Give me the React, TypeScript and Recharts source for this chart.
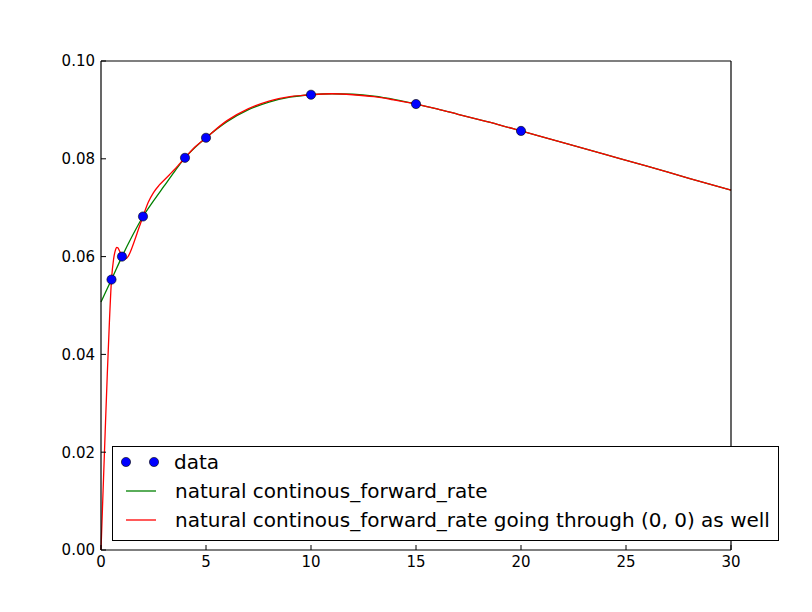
import React from "react";
import { ComposedChart, Line, Scatter, XAxis, YAxis, Legend } from "recharts";

// knots (maturities) and their observed forward rates
const dataX = [0.5, 1, 2, 4, 5, 10, 15, 20];
const dataY = [0.0553, 0.06, 0.0682, 0.0802, 0.0843, 0.0931, 0.0912, 0.0857];

// natural spline through the knots
const greenX = [0, 0.5, 1, 1.5, 2, 2.5, 3, 3.5, 4, 4.5, 5, 6, 7, 8, 9, 10, 11, 12, 13, 14, 15, 16, 17, 18, 19, 20, 22, 24, 26, 28, 30];
const greenY = [
  0.0507, 0.0553, 0.06, 0.0643, 0.0682, 0.0714, 0.0744, 0.0774, 0.0802, 0.0824, 0.0843, 0.0876, 0.09, 0.0916, 0.0926,
  0.0931, 0.0933, 0.0932, 0.0928, 0.0921, 0.0912, 0.0902, 0.0891, 0.088, 0.0869, 0.0857, 0.0833, 0.0809, 0.0785, 0.076, 0.0736,
];

// same spline, forced through (0, 0)
const redX = [
  0, 0.1, 0.2, 0.3, 0.4, 0.5, 0.6, 0.7, 0.75, 0.8, 0.9, 1, 1.1, 1.2, 1.3, 1.4, 1.6, 1.8, 2, 2.25, 2.5, 2.75, 3, 3.25, 3.5,
  3.75, 4, 4.5, 5, 6, 7, 8, 9, 10, 11, 12, 13, 14, 15, 16, 17, 18, 19, 20, 22, 24, 26, 28, 30,
];
const redY = [
  0, 0.0122, 0.0243, 0.036, 0.0466, 0.0553, 0.0595, 0.0615, 0.0619, 0.0618, 0.061, 0.0601, 0.0596, 0.0596, 0.0601, 0.061,
  0.0633, 0.0658, 0.0682, 0.0711, 0.0731, 0.0745, 0.0756, 0.0767, 0.0778, 0.079, 0.0802, 0.0825, 0.0843, 0.0878, 0.0902,
  0.0918, 0.0927, 0.0931, 0.0933, 0.0931, 0.0927, 0.092, 0.0912, 0.0902, 0.0891, 0.088, 0.0869, 0.0857, 0.0833, 0.0809,
  0.0785, 0.076, 0.0736,
];

const xTicks = [0, 5, 10, 15, 20, 25, 30];
const yTicks = [0, 0.02, 0.04, 0.06, 0.08, 0.1];

const legendLabels = [
  "data",
  "natural continous_forward_rate",
  "natural continous_forward_rate going through (0, 0) as well",
];

const points = dataX.map((x, i) => ({ x, y: dataY[i] }));
const green = greenX.map((x, i) => ({ x, y: greenY[i] }));
const red = redX.map((x, i) => ({ x, y: redY[i] }));

const FONT = "'DejaVu Sans', sans-serif";
const tickStyle = { fontSize: 15, fill: "#000", fontFamily: FONT };

function Dot(props: any) {
  return <circle cx={props.cx} cy={props.cy} r={4.6} fill="#0000ff" stroke="#000" strokeWidth={0.6} />;
}

function LegendBox() {
  const rowTop = [16, 45, 74];
  return (
    <div
      style={{
        position: "relative",
        width: 667,
        height: 95,
        boxSizing: "border-box",
        border: "1px solid #000",
        background: "#fff",
        fontFamily: FONT,
        fontSize: 20,
        color: "#000",
      }}
    >
      <svg style={{ position: "absolute", left: 0, top: 0 }} width={60} height={93}>
        <circle cx={13} cy={rowTop[0] - 1} r={4.6} fill="#0000ff" stroke="#000" strokeWidth={0.6} />
        <circle cx={41} cy={rowTop[0] - 1} r={4.6} fill="#0000ff" stroke="#000" strokeWidth={0.6} />
        <line x1={13} x2={43} y1={rowTop[1] - 1} y2={rowTop[1] - 1} stroke="#008000" strokeWidth={1.3} />
        <line x1={13} x2={43} y1={rowTop[2] - 1} y2={rowTop[2] - 1} stroke="#ff0000" strokeWidth={1.3} />
      </svg>
      {legendLabels.map((t, i) => (
        <div
          key={t}
          style={{ position: "absolute", left: i === 0 ? 61 : 62, top: rowTop[i] - 13, lineHeight: "24px", whiteSpace: "nowrap" }}
        >
          {t}
        </div>
      ))}
    </div>
  );
}

export default function App() {
  return (
    <div style={{ width: 796, height: 596, background: "#fff" }}>
      <ComposedChart width={796} height={596} margin={{ top: 43, right: 63, bottom: 24, left: 33 }}>
        <XAxis
          dataKey="x"
          type="number"
          domain={[0, 30]}
          ticks={xTicks}
          tick={tickStyle}
          tickSize={-5}
          tickMargin={11}
          height={30}
          stroke="#000"
          axisLine={{ stroke: "#000", strokeWidth: 1.2 }}
        />
        <XAxis
          xAxisId="top"
          orientation="top"
          type="number"
          domain={[0, 30]}
          ticks={xTicks}
          tickFormatter={() => ""}
          tickSize={-5}
          height={10}
          stroke="#000"
          axisLine={{ stroke: "#000", strokeWidth: 1.2 }}
        />
        <YAxis
          type="number"
          domain={[0, 0.1]}
          ticks={yTicks}
          tickFormatter={(v: number) => v.toFixed(2)}
          tick={tickStyle}
          tickSize={-5}
          tickMargin={11}
          width={60}
          stroke="#000"
          axisLine={{ stroke: "#000", strokeWidth: 1.2 }}
        />
        <YAxis
          yAxisId="right"
          orientation="right"
          type="number"
          domain={[0, 0.1]}
          ticks={yTicks}
          tickFormatter={() => ""}
          tickSize={-5}
          width={10}
          stroke="#000"
          axisLine={{ stroke: "#000", strokeWidth: 1.2 }}
        />
        <Legend
          layout="horizontal"
          verticalAlign="middle"
          align="center"
          content={() => <LegendBox />}
          wrapperStyle={{ left: 104, top: 438, width: 667, height: 95 }}
        />
        <Scatter data={points} dataKey="y" shape={<Dot />} isAnimationActive={false} />
        <Line data={green} dataKey="y" type="monotone" stroke="#008000" strokeWidth={1.3} dot={false} isAnimationActive={false} />
        <Line data={red} dataKey="y" type="monotone" stroke="#ff0000" strokeWidth={1.3} dot={false} isAnimationActive={false} />
      </ComposedChart>
    </div>
  );
}
